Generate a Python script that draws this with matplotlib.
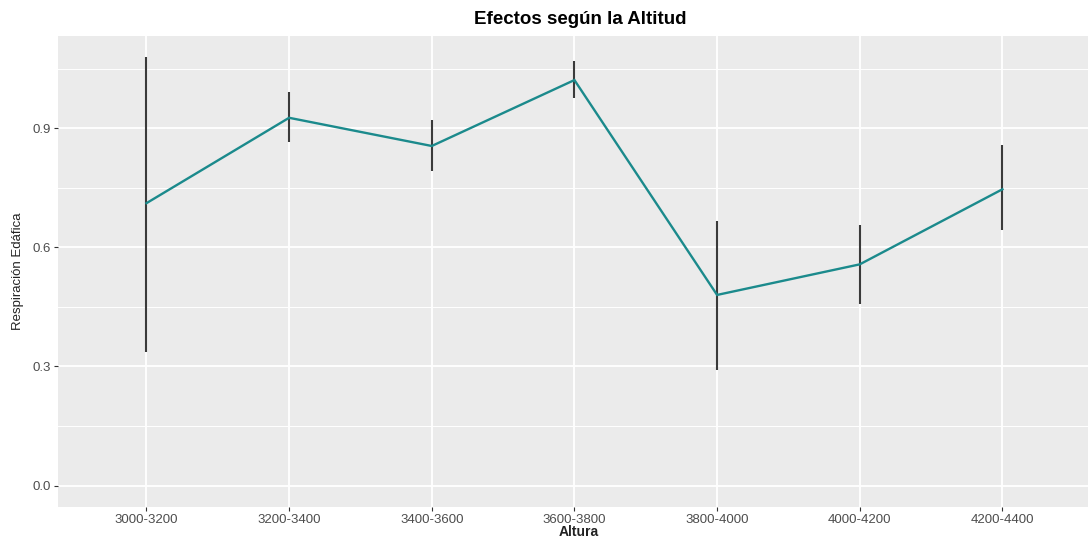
import numpy as np
import matplotlib.pyplot as plt
from matplotlib.ticker import MultipleLocator

plt.rcParams['font.family'] = ['Liberation Sans', 'DejaVu Sans']

alturas = ['3000-3200', '3200-3400', '3400-3600', '3600-3800',
           '3800-4000', '4000-4200', '4200-4400']
media = [0.711, 0.926, 0.855, 1.021, 0.480, 0.557, 0.746]
inferior = [0.337, 0.865, 0.792, 0.975, 0.290, 0.458, 0.644]
superior = [1.078, 0.992, 0.920, 1.069, 0.666, 0.656, 0.857]

x = np.arange(len(alturas))

fig = plt.figure(figsize=(10.88, 5.37), dpi=100)
ax = fig.add_axes([58 / 1088, 30 / 537, 1 - 58 / 1088, 471 / 537])
ax.set_facecolor('#EBEBEB')
for s in ax.spines.values():
    s.set_visible(False)

# error bars first, then the line on top
ax.vlines(x, inferior, superior, color='#3a3a3a', lw=1.5, zorder=3)
ax.plot(x, media, color='#1b8a8c', lw=1.7, zorder=4, solid_joinstyle='miter')

ymax = max(superior)
rng = ymax - 0
ax.set_ylim(-0.05 * rng, ymax + 0.05 * rng)
ax.set_xlim(-0.62, 6.6)

ax.set_xticks(x)
ax.set_xticklabels(alturas)
ax.xaxis.set_minor_locator(plt.NullLocator())
ax.yaxis.set_major_locator(MultipleLocator(0.3))
ax.yaxis.set_minor_locator(MultipleLocator(0.15))
ax.set_yticks([0.0, 0.3, 0.6, 0.9])
ax.set_yticklabels(['0.0', '0.3', '0.6', '0.9'])

ax.grid(which='major', color='white', lw=1.3, zorder=0)
ax.grid(which='minor', axis='y', color='white', lw=0.7, zorder=0)
ax.set_axisbelow(True)

ax.tick_params(axis='both', which='major', length=3, width=0.8, color='#333333',
               labelcolor='#4D4D4D', labelsize=9.5, pad=2)
ax.tick_params(axis='y', which='minor', length=0)

fig.text(580 / 1088, 1 - 20 / 537, 'Efectos según la Altitud', ha='center', va='center',
         fontsize=13.5, fontweight='bold', color='black')
fig.text(579 / 1088, 1 - 532 / 537, 'Altura', ha='center', va='center',
         fontsize=10, fontweight='bold', color='#222222')
fig.text(18 / 1088, 1 - 271 / 537, 'Respiración Edáfica', ha='center', va='center',
         rotation=90, fontsize=9.5, color='#222222')

fig.savefig('out.png', dpi=100)
